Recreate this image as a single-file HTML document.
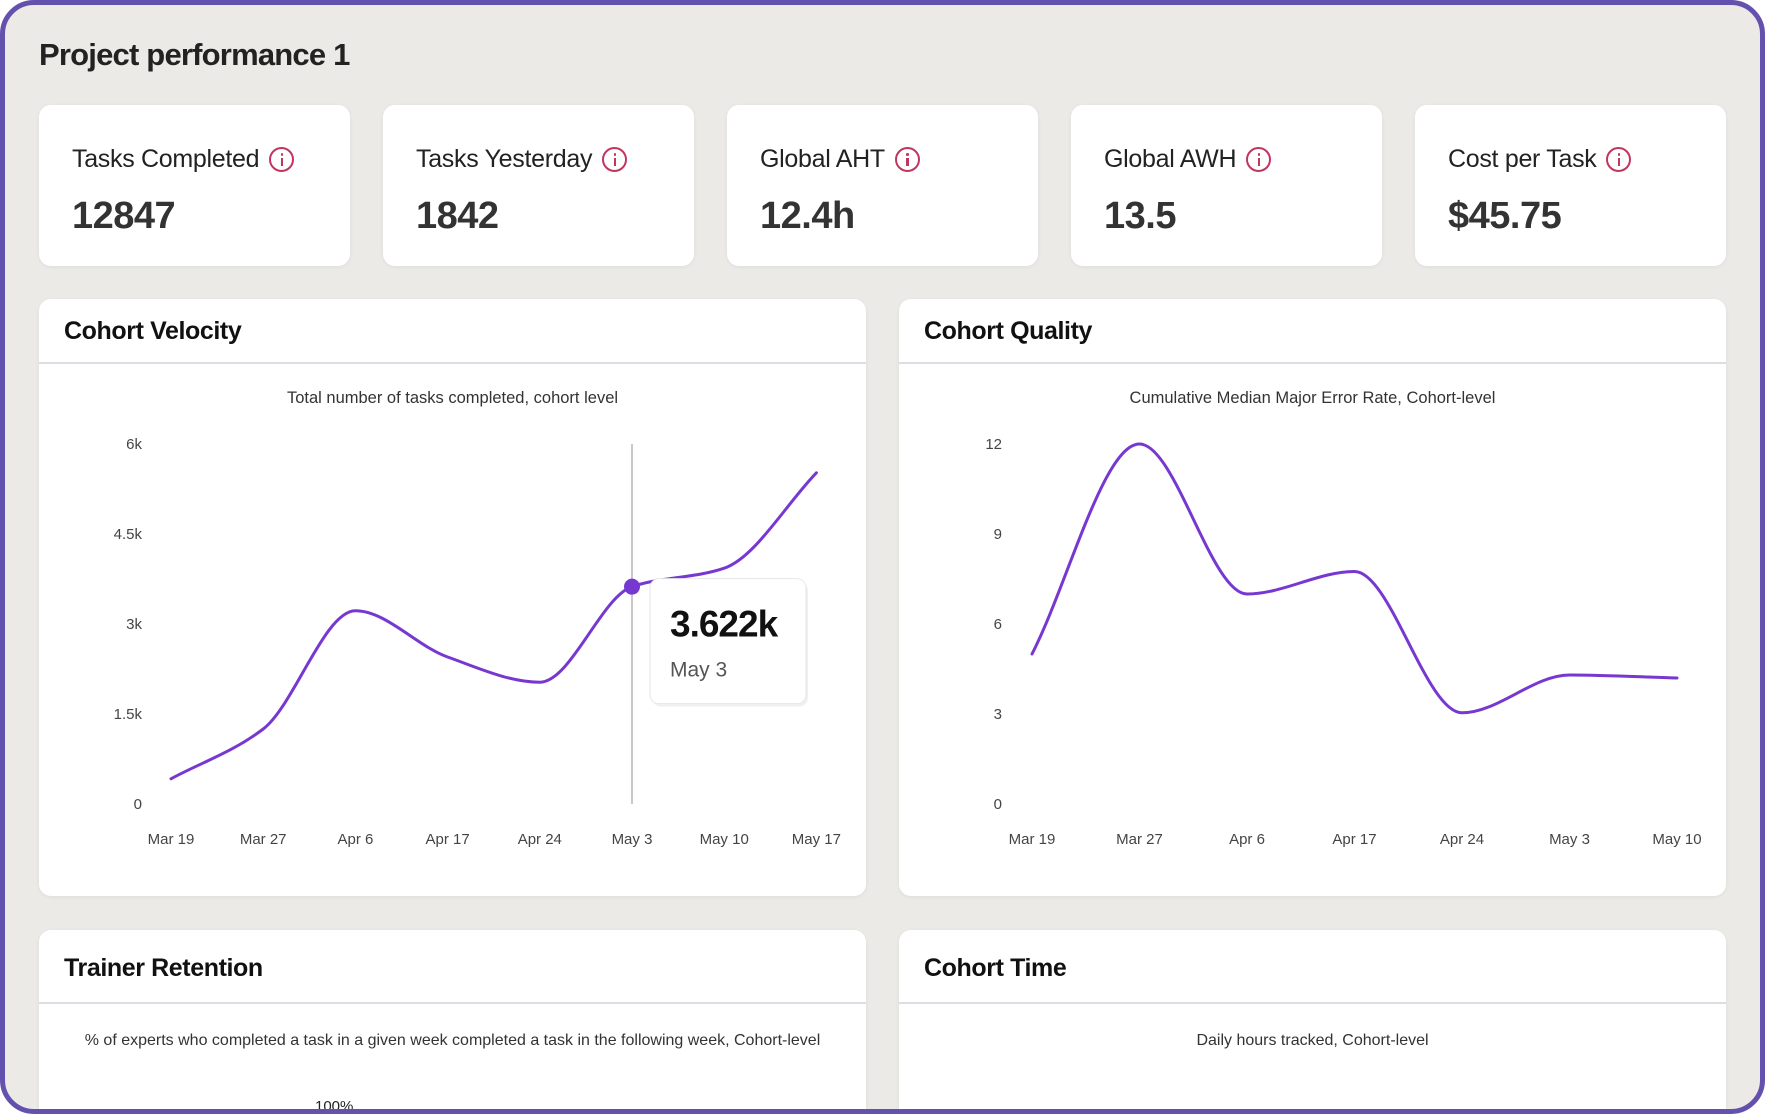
<!DOCTYPE html>
<html><head><meta charset="utf-8">
<style>
*{box-sizing:border-box;margin:0;padding:0}
html,body{width:1765px;height:1114px;overflow:hidden}
body{background:#fff;font-family:"Liberation Sans",sans-serif;position:relative}
#frame{position:absolute;left:0;top:0;width:1765px;height:1114px;border:5px solid #6450ad;border-radius:34px;background:#ebeae6;overflow:hidden}
.abs{position:absolute}
h1{position:absolute;left:34px;top:32px;font-size:31px;font-weight:bold;color:#222;letter-spacing:-0.8px}
.kpi{position:absolute;top:100px;width:311px;height:161px;background:#fff;border-radius:12px;box-shadow:0 1px 4px rgba(0,0,0,0.06)}
.kpi .lab{position:absolute;left:33px;top:40px;font-size:25px;color:#222;display:flex;align-items:center;letter-spacing:-0.3px}
.kpi .val{position:absolute;left:33px;top:90px;font-size:38px;font-weight:bold;color:#333;letter-spacing:-0.5px}
.info{display:inline-block;width:25px;height:25px;border:2px solid #c0365e;border-radius:50%;margin-left:10px;position:relative}
.info:before{content:"";position:absolute;left:9.5px;top:4px;width:2.5px;height:2.5px;background:#c0365e;border-radius:50%}
.info:after{content:"";position:absolute;left:9.5px;top:9px;width:2.5px;height:8px;background:#c0365e}
.card{position:absolute;width:827px;background:#fff;border-radius:12px;box-shadow:0 1px 4px rgba(0,0,0,0.06)}
.card .hd{position:absolute;left:0;top:0;right:0;height:65px;border-bottom:2px solid #dedde3}
.card .hd span{position:absolute;left:25px;top:18px;font-size:25px;font-weight:bold;color:#111;letter-spacing:-0.4px}
.sub{position:absolute;left:0;right:0;text-align:center;font-size:16.5px;color:#333}
svg text{font-family:"Liberation Sans",sans-serif}
</style></head><body>
<div id="frame">
<h1>Project performance 1</h1>

<div class="kpi" style="left:34px"><div class="lab">Tasks Completed<span class="info"></span></div><div class="val">12847</div></div>
<div class="kpi" style="left:378px"><div class="lab">Tasks Yesterday<span class="info"></span></div><div class="val">1842</div></div>
<div class="kpi" style="left:722px"><div class="lab">Global AHT<span class="info"></span></div><div class="val">12.4h</div></div>
<div class="kpi" style="left:1066px"><div class="lab">Global AWH<span class="info"></span></div><div class="val">13.5</div></div>
<div class="kpi" style="left:1410px"><div class="lab">Cost per Task<span class="info"></span></div><div class="val">$45.75</div></div>

<div class="card" style="left:34px;top:294px;height:597px">
 <div class="hd"><span>Cohort Velocity</span></div>
 <div class="sub" style="top:90px">Total number of tasks completed, cohort level</div>
 <svg id="vel" class="abs" style="left:0;top:0" width="827" height="597"></svg>
</div>

<div class="card" style="left:894px;top:294px;height:597px">
 <div class="hd"><span>Cohort Quality</span></div>
 <div class="sub" style="top:90px">Cumulative Median Major Error Rate, Cohort-level</div>
 <svg id="qual" class="abs" style="left:0;top:0" width="827" height="597"></svg>
</div>

<div class="card" style="left:34px;top:925px;height:190px">
 <div class="hd" style="height:74px"><span style="top:24px">Trainer Retention</span></div>
 <div class="sub" style="top:102px;font-size:16px">% of experts who completed a task in a given week completed a task in the following week, Cohort-level</div>
 <div class="abs" style="left:276px;top:168px;font-size:15px;color:#222">100%</div>
</div>

<div class="card" style="left:894px;top:925px;height:190px">
 <div class="hd" style="height:74px"><span style="top:24px">Cohort Time</span></div>
 <div class="sub" style="top:102px;font-size:16px">Daily hours tracked, Cohort-level</div>
</div>
</div>

<script>
const velCategories=["Mar 19","Mar 27","Apr 6","Apr 17","Apr 24","May 3","May 10","May 17"];
const velValues=[0.42,1.25,3.22,2.45,2.03,3.622,3.93,5.52];
const velTicks=[0,1.5,3,4.5,6];
const velTickLabels=["0","1.5k","3k","4.5k","6k"];
const qualCategories=["Mar 19","Mar 27","Apr 6","Apr 17","Apr 24","May 3","May 10"];
const qualValues=[5.0,12.0,7.0,7.75,3.04,4.3,4.2];
const qualTicks=[0,3,6,9,12];
const qualTickLabels=["0","3","6","9","12"];
const NS="http://www.w3.org/2000/svg";
function mk(svg,tag,attrs){const e=document.createElementNS(NS,tag);for(const k in attrs)e.setAttribute(k,attrs[k]);svg.appendChild(e);return e;}
function monotonePath(xs,ys){
 const n=xs.length,d=[],m=[];
 for(let i=0;i<n-1;i++)d.push((ys[i+1]-ys[i])/(xs[i+1]-xs[i]));
 m[0]=d[0];m[n-1]=d[n-2];
 for(let i=1;i<n-1;i++){m[i]=(d[i-1]*d[i]<=0)?0:(2/(1/d[i-1]+1/d[i]));}
 let p="M"+xs[0]+","+ys[0];
 for(let i=0;i<n-1;i++){const h=(xs[i+1]-xs[i])/3;
  p+=" C"+(xs[i]+h)+","+(ys[i]+m[i]*h)+" "+(xs[i+1]-h)+","+(ys[i+1]-m[i+1]*h)+" "+xs[i+1]+","+ys[i+1];}
 return p;
}
function chart(id,cats,vals,ticks,tlabels,x0,step,y0,y1,max,hi){
 const svg=document.getElementById(id);
 const X=i=>x0+i*step, Y=v=>y0-(v/max)*(y0-y1);
 ticks.forEach((t,i)=>{const e=mk(svg,"text",{x:103,y:Y(t)+5,"text-anchor":"end","font-size":15,fill:"#444"});e.textContent=tlabels[i];
  
  });
 cats.forEach((c,i)=>{const e=mk(svg,"text",{x:X(i),y:545,"text-anchor":"middle","font-size":15,fill:"#444"});e.textContent=c;
  
  });
 if(hi!=null){const l=mk(svg,"line",{x1:X(hi),x2:X(hi),y1:y1,y2:y0,stroke:"#c8c8c8","stroke-width":2});
  
  }
 const xs=vals.map((v,i)=>X(i)),ys=vals.map(v=>Y(v));
 const p=mk(svg,"path",{d:monotonePath(xs,ys),fill:"none",stroke:"#7638d0","stroke-width":3,"stroke-linecap":"round"});
 
 
 if(hi!=null){
  const c=mk(svg,"circle",{cx:X(hi),cy:Y(vals[hi]),r:8,fill:"#7638d0"});
  
  
  const g=mk(svg,"g",{});
  
  
  const tx=X(hi)+18,ty=Y(vals[hi])-8;
  mk(g,"rect",{x:tx+2,y:ty+3,width:156,height:125,rx:9,fill:"rgba(0,0,0,0.06)"});
  mk(g,"rect",{x:tx,y:ty,width:156,height:125,rx:9,fill:"#fff",stroke:"#e6e6e6"});
  const t1=mk(g,"text",{x:tx+20,y:ty+58,"font-size":37,"font-weight":"bold",fill:"#111","letter-spacing":"-1"});t1.textContent=vals[hi].toFixed(3)+"k";
  const t2=mk(g,"text",{x:tx+20,y:ty+98,"font-size":21,fill:"#555"});t2.textContent=cats[hi];
 }
}
chart("vel",velCategories,velValues,velTicks,velTickLabels,132,92.2,505,145,6,5);
chart("qual",qualCategories,qualValues,qualTicks,qualTickLabels,133,107.5,505,145,12,null);
</script>
</body></html>
